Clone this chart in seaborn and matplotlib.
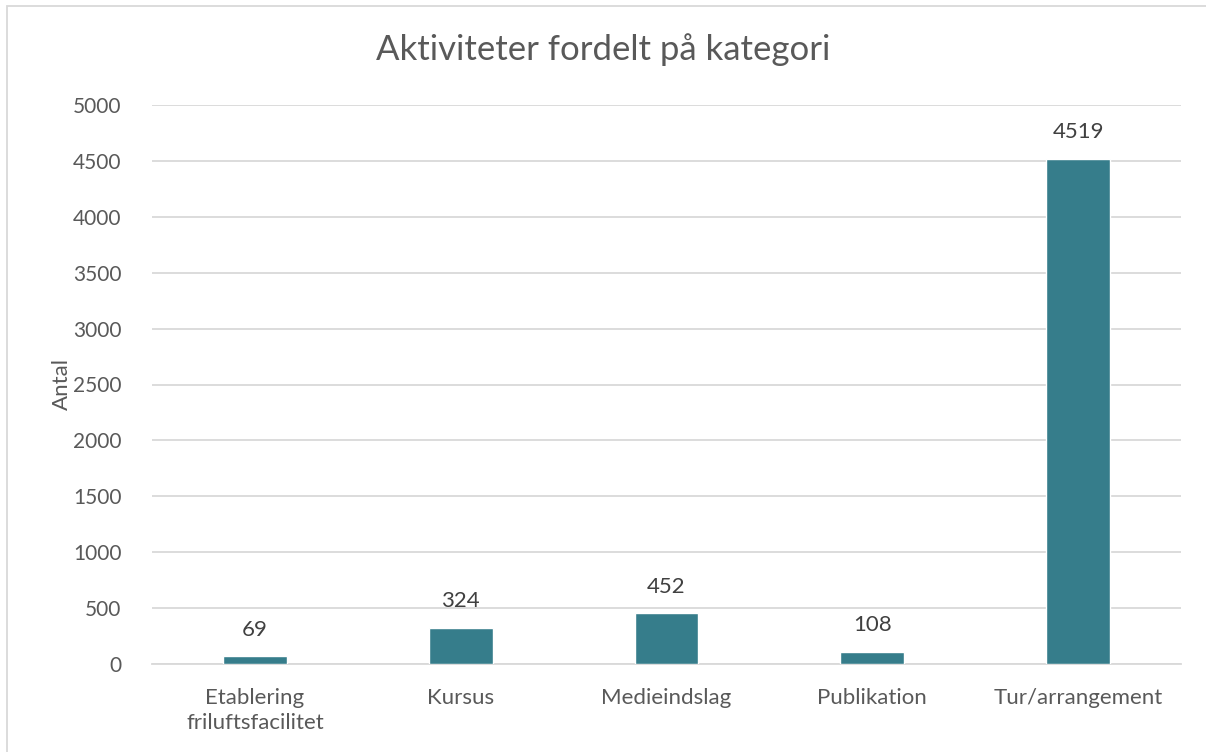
import matplotlib
matplotlib.use('Agg')
import matplotlib.pyplot as plt
import seaborn as sns
import pandas as pd
from matplotlib.patches import Rectangle

# Data
categories = ['Etablering\nfriluftsfacilitet', 'Kursus', 'Medieindslag', 'Publikation', 'Tur/arrangement']
antal = [69, 324, 452, 108, 4519]

df = pd.DataFrame({'Kategori': categories, 'Antal': antal})

sns.set_style('white')
plt.rcParams['font.family'] = ['Lato', 'DejaVu Sans']
grey = '#595959'

fig = plt.figure(figsize=(12.06, 7.52), dpi=100)
ax = fig.add_axes([152 / 1206, 1 - 664 / 752, (1181 - 152) / 1206, (664 - 105) / 752])

sns.barplot(data=df, x='Kategori', y='Antal', color='#367D8B', saturation=1, width=0.31,
            ax=ax, zorder=3)

ax.set_ylim(0, 5000)
ax.set_yticks(range(0, 5001, 500))
ax.grid(axis='y', color='#D9D9D9', linewidth=1.3, zorder=0)
ax.set_axisbelow(True)
for s in ['top', 'right', 'left']:
    ax.spines[s].set_visible(False)
ax.spines['bottom'].set_color('#D9D9D9')
ax.spines['bottom'].set_linewidth(1.3)

ax.tick_params(axis='both', length=0, labelcolor=grey)
ax.tick_params(axis='y', pad=22, labelsize=15)
ax.tick_params(axis='x', pad=17, labelsize=16)
for t in ax.get_xticklabels():
    t.set_linespacing(1.35)
ax.set_xlabel('')
ax.set_ylabel('Antal', fontsize=16, color=grey, labelpad=1)

for c in ax.containers:
    ax.bar_label(c, padding=12, fontsize=16, color='#404040')

fig.text(0.5, 1 - 50 / 752, 'Aktiviteter fordelt på kategori', ha='center', va='center',
         fontsize=25, color=grey)

# chart frame
fig.patches.append(Rectangle((7 / 1206, -0.1), 1.2, 1 - 6 / 752 + 0.1, transform=fig.transFigure,
                             fill=False, edgecolor='#D9D9D9', linewidth=1.3))

fig.savefig('out.png', dpi=100)
